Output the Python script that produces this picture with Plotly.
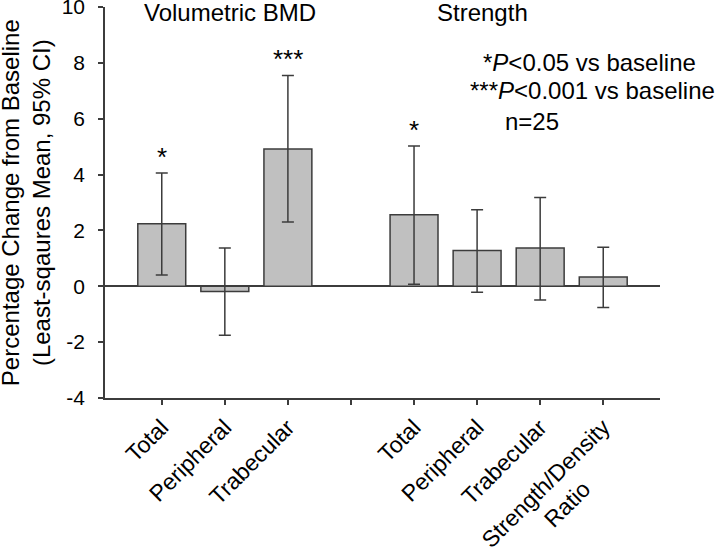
import plotly.graph_objects as go

# Data
categories = ["Total", "Peripheral", "Trabecular", "", "Total", "Peripheral", "Trabecular",
              "Strength/Density<br>Ratio" + "&nbsp;" * 9]
means = [2.24, -0.19, 4.92, None, 2.56, 1.28, 1.37, 0.33]
ci_upper = [4.06, 1.37, 7.55, None, 5.02, 2.74, 3.18, 1.40]
ci_lower = [0.40, -1.75, 2.30, None, 0.07, -0.21, -0.49, -0.76]
stars = ["*", "", "***", "", "*", "", "", ""]
group_titles = ["Volumetric BMD", "Strength"]
legend_lines = ["*<i>P</i>&lt;0.05 vs baseline", "***<i>P</i>&lt;0.001 vs baseline", "n=25"]
y_title = "Percentage Change from Baseline<br>(Least-sqaures Mean, 95% CI)"
y_ticks = [-4, -2, 0, 2, 4, 6, 8, 10]
y_tick_labels = ["-4", "-2", "0", "2", "4", "6", "8", "10"]

xpos = list(range(len(categories)))
err_plus = [(u - m) if m is not None else None for u, m in zip(ci_upper, means)]
err_minus = [(m - l) if m is not None else None for l, m in zip(ci_lower, means)]

FONT = "Liberation Sans, Arial, sans-serif"
LINE = "#3c3c3c"

fig = go.Figure()
fig.add_trace(go.Bar(
    x=xpos, y=means, width=0.76,
    marker=dict(color="#c0c0c0", line=dict(color=LINE, width=1.5)),
    error_y=dict(type="data", symmetric=False, array=err_plus, arrayminus=err_minus,
                 color=LINE, thickness=1.5, width=6),
    showlegend=False,
))

# significance stars
for x, s, u in zip(xpos, stars, ci_upper):
    if s:
        fig.add_annotation(x=x, y=u, text=s, showarrow=False, yanchor="bottom", yshift=-1,
                           font=dict(size=26, color="black", family=FONT))

# group titles
fig.add_annotation(x=1.08, y=9.8, text=group_titles[0], showarrow=False, yanchor="middle",
                   font=dict(size=24, color="black", family=FONT))
fig.add_annotation(x=5.08, y=9.8, text=group_titles[1], showarrow=False, yanchor="middle",
                   font=dict(size=24, color="black", family=FONT))

# legend text (paper coordinates, may extend beyond plot area)
fig.add_annotation(xref="paper", yref="paper", x=1.0685, y=0.8576, xanchor="right", yanchor="middle",
                   text=legend_lines[0], showarrow=False,
                   font=dict(size=24, color="black", family=FONT))
fig.add_annotation(xref="paper", yref="paper", x=1.1027, y=0.7852, xanchor="right", yanchor="middle",
                   text=legend_lines[1], showarrow=False,
                   font=dict(size=24, color="black", family=FONT))
fig.add_annotation(xref="paper", yref="paper", x=0.717, y=0.7072, xanchor="left", yanchor="middle",
                   text=legend_lines[2], showarrow=False,
                   font=dict(size=24, color="black", family=FONT))

# y-axis title
fig.add_annotation(xref="paper", yref="paper", x=-0.143, y=0.5, xanchor="center", yanchor="middle",
                   text=y_title, textangle=-90, showarrow=False,
                   font=dict(size=24, color="black", family=FONT))

fig.update_xaxes(
    range=[-0.9, 7.9], tickmode="array", tickvals=xpos, ticktext=categories,
    tickangle=-45, ticks="outside", ticklen=5, tickcolor=LINE, tickwidth=1.5,
    showline=True, linecolor=LINE, linewidth=1.5, showgrid=False, zeroline=False,
    tickfont=dict(size=23, color="black", family=FONT),
)
fig.update_yaxes(
    range=[-4, 10], tickmode="array", tickvals=y_ticks, ticktext=y_tick_labels,
    ticks="outside", ticklen=5, tickcolor=LINE, tickwidth=1.5,
    ticklabeloverflow="allow", ticklabelstandoff=9,
    showline=True, linecolor=LINE, linewidth=1.5, showgrid=False,
    zeroline=True, zerolinecolor=LINE, zerolinewidth=1.5,
    tickfont=dict(size=21, color="black", family=FONT),
)
fig.update_layout(
    width=720, height=548, plot_bgcolor="white", paper_bgcolor="white",
    margin=dict(l=105, r=60, t=7, b=150, autoexpand=False),
    font=dict(family=FONT),
)
# remove the default 8px page margin so the 720x548 figure fills the window exactly
fig.write_html("out.html", config={"displayModeBar": False},
               post_script="document.body.style.margin='0';")
